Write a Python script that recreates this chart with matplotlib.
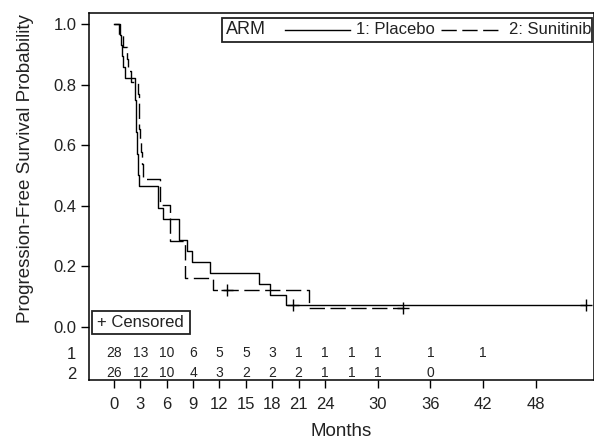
import matplotlib
matplotlib.use("Agg")
import matplotlib.pyplot as plt
from matplotlib.patches import Rectangle
from matplotlib.lines import Line2D

plt.rcParams['font.family'] = ['Liberation Sans', 'DejaVu Sans']

# Kaplan-Meier steps (time in months, survival after each step)
placebo_time = [0, 0.65, 0.85, 0.95, 1.05, 1.3, 2.35, 2.4, 2.45, 2.5, 2.55, 2.6, 2.65,
                2.7, 2.75, 2.8, 5.0, 5.6, 7.4, 8.3, 8.9, 10.9, 16.5, 17.7, 19.6, 53.7]
placebo_surv = [1.0, 0.964, 0.929, 0.893, 0.857, 0.821, 0.786, 0.75, 0.714, 0.679, 0.643,
                0.607, 0.571, 0.536, 0.5, 0.464, 0.393, 0.357, 0.286, 0.25, 0.214, 0.179,
                0.143, 0.107, 0.071, 0.071]
placebo_cens_t = [20.4, 53.7]
placebo_cens_s = [0.071, 0.071]

sunitinib_time = [0, 0.6, 1.0, 1.45, 1.6, 1.9, 2.75, 2.8, 2.85, 2.9, 2.95, 3.05, 3.15,
                  3.25, 5.2, 6.4, 8.1, 11.3, 22.2, 32.9]
sunitinib_surv = [1.0, 0.962, 0.923, 0.885, 0.846, 0.808, 0.77, 0.731, 0.692, 0.654,
                  0.615, 0.577, 0.538, 0.488, 0.404, 0.283, 0.162, 0.121, 0.061, 0.061]
sunitinib_cens_t = [12.9, 32.9]
sunitinib_cens_s = [0.121, 0.061]

# numbers at risk
risk_times = [0, 3, 6, 9, 12, 15, 18, 21, 24, 27, 30, 36, 42]
risk_placebo = [28, 13, 10, 6, 5, 5, 3, 1, 1, 1, 1, 1, 1]
risk_sunitinib = [26, 12, 10, 4, 3, 2, 2, 2, 1, 1, 1, 0]

xticks = [0, 3, 6, 9, 12, 15, 18, 21, 24, 30, 36, 42, 48]
yticks = [0.0, 0.2, 0.4, 0.6, 0.8, 1.0]
row_y = [-0.085, -0.151]

fig = plt.figure(figsize=(5.94, 4.43), dpi=100)
ax = fig.add_axes([89 / 594, 1 - 380 / 443, 505 / 594, 367 / 443])

lw = 1.0
ax.step(placebo_time, placebo_surv, where='post', color='black', lw=lw)
ax.step(sunitinib_time, sunitinib_surv, where='post', color='black', lw=lw,
        dashes=(11, 4))
ax.plot(placebo_cens_t, placebo_cens_s, ls='none', marker='+', ms=9, mew=1, color='black')
ax.plot(sunitinib_cens_t, sunitinib_cens_s, ls='none', marker='+', ms=9, mew=1, color='black')

# at-risk table inside the plot frame
for t, n in zip(risk_times, risk_placebo):
    ax.text(t, row_y[0], str(n), ha='center', va='center', fontsize=10, color='#222222')
for t, n in zip(risk_times, risk_sunitinib):
    ax.text(t, row_y[1], str(n), ha='center', va='center', fontsize=10, color='#222222')

ax.set_xlim(-2.84, 54.6)
ax.set_ylim(-0.175, 1.036)
ax.set_xticks(xticks)
ax.set_xticklabels([str(v) for v in xticks])
ax.set_yticks(yticks + row_y)
ax.set_yticklabels(['%.1f' % v for v in yticks] + ['1', '2'])
for tk in ax.yaxis.get_major_ticks()[len(yticks):]:
    tk.tick1line.set_visible(False)
ax.tick_params(axis='both', direction='out', length=6, width=1, labelsize=12,
               colors='black', labelcolor='#222222')
ax.tick_params(axis='y', pad=3)
ax.tick_params(axis='x', pad=6)
for sp in ax.spines.values():
    sp.set_linewidth(1.1)

ax.set_ylabel('Progression-Free Survival Probability', fontsize=13.5, color='#222222')
ax.yaxis.set_label_coords(-0.109, 0.575)
ax.set_xlabel('Months', fontsize=13.5, color='#222222', labelpad=8)

# legend box (ARM)
def fx(px):
    return (px - 89) / 505.0

def fy(py):
    return (380 - py) / 367.0

ax.add_patch(Rectangle((fx(222), fy(42)), fx(592) - fx(222), fy(18) - fy(42),
                       transform=ax.transAxes, fill=False, lw=1.3, ec='#222222'))
ax.text(fx(226), fy(30), 'ARM', transform=ax.transAxes, fontsize=13, va='center',
        ha='left', color='#222222')
ax.add_line(Line2D([fx(285), fx(350)], [fy(30), fy(30)], transform=ax.transAxes,
                   color='black', lw=lw))
ax.text(fx(356), fy(30), '1: Placebo', transform=ax.transAxes, fontsize=12,
        va='center', ha='left', color='#222222')
ax.add_line(Line2D([fx(441), fx(498)], [fy(30), fy(30)], transform=ax.transAxes,
                   color='black', lw=lw, dashes=(11, 4)))
ax.text(fx(509), fy(30), '2: Sunitinib', transform=ax.transAxes, fontsize=12,
        va='center', ha='left', color='#222222')

# censored box
ax.add_patch(Rectangle((fx(92), fy(334)), fx(190) - fx(92), fy(311) - fy(334),
                       transform=ax.transAxes, fill=False, lw=1.3, ec='#222222'))
ax.text(fx(97), fy(322.5), '+ Censored', transform=ax.transAxes, fontsize=12,
        va='center', ha='left', color='#222222')

fig.savefig('out.png', dpi=100)
